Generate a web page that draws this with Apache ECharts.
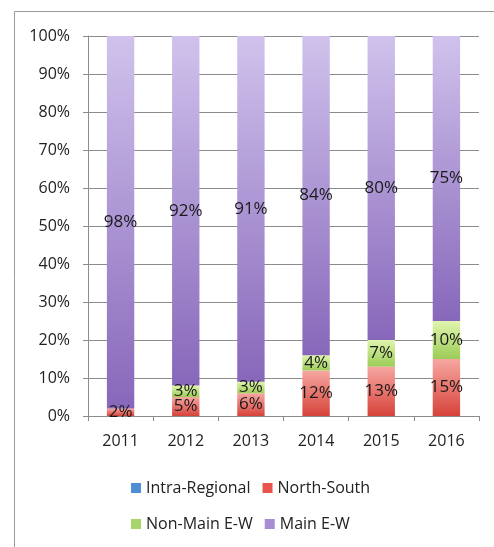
<!DOCTYPE html>
<html>
<head>
<meta charset="utf-8">
<script src="https://cdn.jsdelivr.net/npm/echarts@6/dist/echarts.min.js"></script>
<style>
  html, body { margin: 0; padding: 0; background: #ffffff; }
  #chart { width: 494px; height: 547px; }
</style>
</head>
<body>
<div id="chart"></div>
<script>
// Share of flows by route type, per year (percent of total)
const years = ['2011', '2012', '2013', '2014', '2015', '2016'];
const intraRegional = [0, 0, 0, 0, 0, 0];
const northSouth = [2, 5, 6, 12, 13, 15];
const nonMainEW = [0, 3, 3, 4, 7, 10];
const mainEW = [98, 92, 91, 84, 80, 75];
const yTicks = [0, 10, 20, 30, 40, 50, 60, 70, 80, 90, 100];

const FONT = 'Open Sans';
const grad = (top, bottom) => new echarts.graphic.LinearGradient(0, 0, 0, 1, [
  { offset: 0, color: top },
  { offset: 1, color: bottom }
]);

const labelStyle = {
  show: true,
  position: 'inside',
  color: '#1a1a1a',
  fontFamily: FONT,
  fontSize: 17,
  formatter: p => (p.value ? p.value + '%' : '')
};

function barSeries(name, data, fill, legendColor) {
  return {
    name: name,
    type: 'bar',
    stack: 'share',
    data: data,
    barWidth: '42%',
    itemStyle: { color: fill },
    label: labelStyle,
    emphasis: { disabled: true },
    // legend swatch uses a flat colour
    legendColor: legendColor
  };
}

const series = [
  barSeries('Intra-Regional', intraRegional, grad('#9cc3ee', '#4a86c8'), '#4f8fd6'),
  barSeries('North-South', northSouth, grad('#f6a7a1', '#d6433a'), '#e8544c'),
  barSeries('Non-Main E-W', nonMainEW, grad('#e0f5ad', '#9ccc57'), '#a9d46c'),
  barSeries('Main E-W', mainEW, grad('#d0c2ec', '#8767ba'), '#a88dd4')
];

const legendText = { fontFamily: FONT, fontSize: 16, color: '#222' };

function legendRow(names, top) {
  return {
    data: names.map(n => {
      const s = series.find(x => x.name === n);
      return { name: n, itemStyle: { color: s.legendColor } };
    }),
    left: 126,
    top: top,
    icon: 'rect',
    itemWidth: 10,
    itemHeight: 10,
    itemGap: 12,
    textStyle: legendText,
    selectedMode: false
  };
}

const chart = echarts.init(document.getElementById('chart'), null, { renderer: 'canvas' });
chart.setOption({
  animation: false,
  backgroundColor: '#ffffff',
  graphic: [{
    type: 'rect',
    shape: { x: 14.5, y: 11.5, width: 520, height: 560 },
    style: { fill: 'none', stroke: '#9a9a9a', lineWidth: 1 },
    silent: true
  }],
  grid: { left: 88, right: 15, top: 36, bottom: 131 },
  legend: [
    legendRow(['Intra-Regional', 'North-South'], 475),
    legendRow(['Non-Main E-W', 'Main E-W'], 511)
  ],
  xAxis: {
    type: 'category',
    data: years,
    axisLine: { lineStyle: { color: '#8c8c8c' } },
    axisTick: { show: true, length: 5, lineStyle: { color: '#8c8c8c' } },
    axisLabel: { margin: 17, fontFamily: FONT, fontSize: 16, color: '#222' }
  },
  yAxis: {
    type: 'value',
    min: yTicks[0],
    max: yTicks[yTicks.length - 1],
    interval: yTicks[1] - yTicks[0],
    axisLine: { show: true, lineStyle: { color: '#8c8c8c' } },
    axisTick: { show: true, length: 5, lineStyle: { color: '#8c8c8c' } },
    splitLine: { lineStyle: { color: '#8c8c8c', width: 1 } },
    axisLabel: { margin: 18, fontFamily: FONT, fontSize: 16, color: '#222', formatter: '{value}%' }
  },
  series: series
});
</script>
</body>
</html>
